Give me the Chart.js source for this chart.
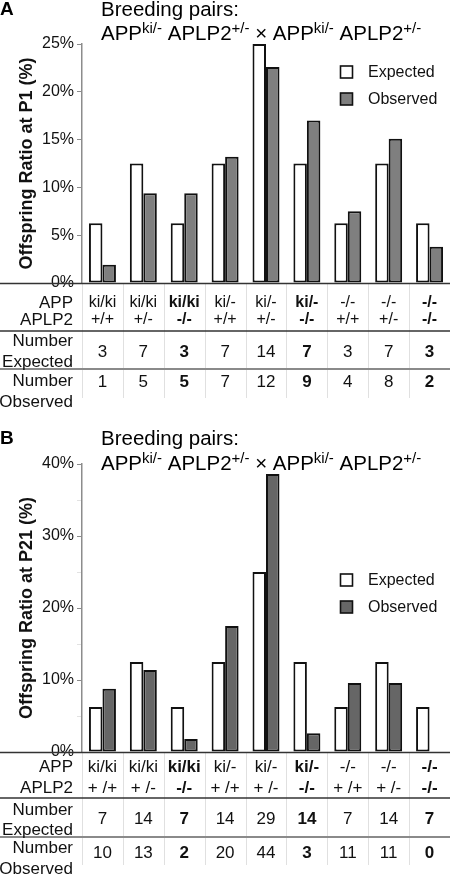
<!DOCTYPE html>
<html><head><meta charset="utf-8">
<script src="https://cdn.jsdelivr.net/npm/chart.js@4"></script>
<style>
html,body{margin:0;padding:0;background:#fff;width:450px;height:875px;overflow:hidden}
canvas{position:absolute;left:0}
#cA{top:0}
#cB{top:415px}
</style></head><body>
<canvas id="cA" width="450" height="415"></canvas>
<canvas id="cB" width="450" height="460"></canvas>
<script>
// ---------- data ----------
const appGenotype   = ['ki/ki','ki/ki','ki/ki','ki/-','ki/-','ki/-','-/-','-/-','-/-'];
const aplp2GenotypeA = ['+/+','+/-','-/-','+/+','+/-','-/-','+/+','+/-','-/-'];
const aplp2GenotypeB = ['+ /+','+ /-','-/-','+ /+','+ /-','-/-','+ /+','+ /-','-/-'];

const expectedPctA = [6.25, 12.5, 6.25, 12.5, 25, 12.5, 6.25, 12.5, 6.25];
const observedPctA = [1.9, 9.4, 9.4, 13.2, 22.6, 17.0, 7.5, 15.1, 3.8];
const numberExpectedA = [3, 7, 3, 7, 14, 7, 3, 7, 3];
const numberObservedA = [1, 5, 5, 7, 12, 9, 4, 8, 2];

const expectedPctB = [6.25, 12.5, 6.25, 12.5, 25, 12.5, 6.25, 12.5, 6.25];
const observedPctB = [8.8, 11.4, 1.8, 17.5, 38.6, 2.6, 9.6, 9.6, 0];
const numberExpectedB = [7, 14, 7, 14, 29, 14, 7, 14, 7];
const numberObservedB = [10, 13, 2, 20, 44, 3, 11, 11, 0];

const yTicksA = [0, 5, 10, 15, 20, 25];
const yTicksB = [0, 10, 20, 30, 40];

// ---------- drawing ----------
const FONT = '"Liberation Sans", Arial, Helvetica, sans-serif';
const NARROW = '"Liberation Sans Narrow", "Arial Narrow", "Liberation Sans", Arial, sans-serif';
Chart.defaults.font.family = FONT;

function drawRich(ctx, x, y, parts) {
  let cx = x;
  parts.forEach(([t, sup]) => {
    ctx.font = (sup ? '15px ' : '20.5px ') + FONT;
    ctx.fillText(t, cx, sup ? y - 7 : y);
    cx += ctx.measureText(t).width;
  });
}

const panelPlugin = {
  id: 'panel',
  afterDraw(chart, args, o) {
    const ctx = chart.ctx, xs = chart.scales.x, area = chart.chartArea;
    ctx.save();
    ctx.fillStyle = '#000';
    ctx.textAlign = 'left';
    ctx.textBaseline = 'alphabetic';
    ctx.font = 'bold 19px ' + FONT;
    ctx.fillText(o.letter, 0, o.letterY);
    ctx.font = '20.5px ' + FONT;
    ctx.fillText('Breeding pairs:', 101, o.t1Y);
    drawRich(ctx, 101, o.t2Y, [['APP',0],['ki/-',1],[' APLP2',0],['+/-',1],[' \u00d7 ',0],['APP',0],['ki/-',1],[' APLP2',0],['+/-',1]]);

    // legend
    chart.data.datasets.forEach((ds, i) => {
      const cy = o.legY + i * 27;
      ctx.fillStyle = ds.backgroundColor;
      ctx.fillRect(340.5, cy - 6, 12, 12);
      ctx.strokeStyle = '#111'; ctx.lineWidth = 1.6;
      ctx.strokeRect(340.5, cy - 6, 12, 12);
      ctx.fillStyle = '#111';
      ctx.font = '16px ' + FONT;
      ctx.textBaseline = 'middle';
      ctx.fillText(ds.label, 368, cy + 1);
    });

    // table
    const n = chart.data.labels.length;
    const cw = xs.getPixelForValue(1) - xs.getPixelForValue(0);
    ctx.strokeStyle = '#e0e0e0'; ctx.lineWidth = 1;
    for (let i = 0; i < n; i++) {
      const bx = Math.round(xs.getPixelForValue(i) - cw / 2) + 0.5;
      ctx.beginPath(); ctx.moveTo(bx, area.bottom); ctx.lineTo(bx, o.tableBottom); ctx.stroke();
    }
    ctx.strokeStyle = '#333'; ctx.lineWidth = 1.6;
    ctx.beginPath(); ctx.moveTo(0, area.bottom + 0.5); ctx.lineTo(450, area.bottom + 0.5); ctx.stroke();
    ctx.beginPath(); ctx.moveTo(0, o.line1); ctx.lineTo(450, o.line1); ctx.stroke();
    ctx.strokeStyle = '#8a8a8a'; ctx.lineWidth = 2;
    ctx.beginPath(); ctx.moveTo(0, o.line2); ctx.lineTo(450, o.line2); ctx.stroke();

    ctx.fillStyle = '#111';
    ctx.textAlign = 'right'; ctx.textBaseline = 'middle';
    ctx.font = '17px ' + FONT;
    ctx.fillText('APP', 73, o.appY);
    ctx.fillText('APLP2', 73, o.aplY);
    ctx.fillText('Number', 73, o.ne1);
    ctx.fillText('Expected', 73, o.ne2);
    ctx.fillText('Number', 73, o.no1);
    ctx.fillText('Observed', 73, o.no2);

    ctx.textAlign = 'center';
    for (let i = 0; i < n; i++) {
      const cx = xs.getPixelForValue(i);
      const bold = o.aplp2[i] === '-/-';
      ctx.font = (bold ? 'bold ' : '') + o.genoFont;
      ctx.fillText(o.app[i], cx, o.appY);
      ctx.fillText(o.aplp2[i], cx, o.aplY);
      ctx.font = (bold ? 'bold ' : '') + '17px ' + FONT;
      ctx.fillText(String(o.numExp[i]), cx, o.valE);
      ctx.fillText(String(o.numObs[i]), cx, o.valO);
    }
    ctx.restore();
  }
};

function makeChart(id, c) {
  return new Chart(document.getElementById(id), {
    type: 'bar',
    data: {
      labels: c.app.map((a, i) => a + ' ' + c.aplp2[i]),
      datasets: [
        { label: 'Expected', data: c.expected, backgroundColor: '#ffffff', borderColor: '#111111', borderWidth: 2, borderSkipped: false },
        { label: 'Observed', data: c.observed, backgroundColor: c.obsColor, borderColor: '#111111', borderWidth: 2, borderSkipped: false }
      ]
    },
    options: {
      responsive: false, animation: false, devicePixelRatio: 1,
      layout: { padding: { top: c.padTop, bottom: c.padBottom, left: 0, right: 0 } },
      datasets: { bar: { categoryPercentage: 0.66, barPercentage: 1 } },
      plugins: { legend: { display: false }, tooltip: { enabled: false }, panel: c.panel },
      scales: {
        x: { display: false },
        y: {
          min: 0, max: c.max,
          afterFit(s) { s.width = 82; },
          ticks: {
            stepSize: c.step, color: '#111', font: { size: 16 }, padding: 3,
            callback: v => c.labelTicks.includes(v) ? v + '%' : ''
          },
          grid: {
            drawOnChartArea: false, drawTicks: true, tickLength: 5,
            color: ctx => (ctx.tick && !c.labelTicks.includes(ctx.tick.value)) ? '#e2e2e2' : '#8c8c8c'
          },
          border: { color: '#8c8c8c', width: 1.5 },
          title: { display: true, text: c.yTitle, color: '#111', font: { size: 18, weight: 'bold' }, padding: { top: 16, bottom: 0 } }
        }
      }
    },
    plugins: [panelPlugin]
  });
}

makeChart('cA', {
  app: appGenotype, aplp2: aplp2GenotypeA, expected: expectedPctA, observed: observedPctA,
  obsColor: '#7f7f7f', max: 25, step: 5, labelTicks: yTicksA,
  yTitle: 'Offspring Ratio at P1 (%)', padTop: 44, padBottom: 132,
  panel: {
    letter: 'A', letterY: 15, t1Y: 16, t2Y: 40, legY: 72,
    app: appGenotype, aplp2: aplp2GenotypeA, numExp: numberExpectedA, numObs: numberObservedA,
    genoFont: '16px ' + FONT,
    appY: 303, aplY: 320, line1: 331, ne1: 341, ne2: 362, valE: 352, line2: 369,
    no1: 381, no2: 402, valO: 382, tableBottom: 398
  }
});

makeChart('cB', {
  app: appGenotype, aplp2: aplp2GenotypeB, expected: expectedPctB, observed: observedPctB,
  obsColor: '#666666', max: 40, step: 5, labelTicks: yTicksB,
  yTitle: 'Offspring Ratio at P21 (%)', padTop: 49, padBottom: 123,
  panel: {
    letter: 'B', letterY: 29, t1Y: 30, t2Y: 55, legY: 165,
    app: appGenotype, aplp2: aplp2GenotypeB, numExp: numberExpectedB, numObs: numberObservedB,
    genoFont: '17px ' + NARROW,
    appY: 352, aplY: 373, line1: 383, ne1: 395, ne2: 415, valE: 404, line2: 422,
    no1: 433, no2: 454, valO: 438, tableBottom: 450
  }
});
</script>
</body></html>
